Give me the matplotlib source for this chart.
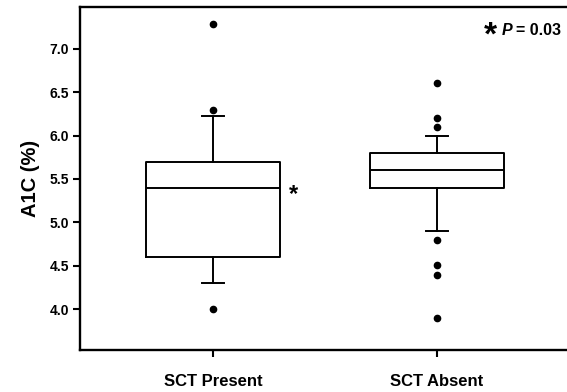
import matplotlib
matplotlib.use("Agg")
import matplotlib.pyplot as plt

plt.rcParams["font.family"] = ["Liberation Sans", "DejaVu Sans"]

# box statistics
groups = ["SCT Present", "SCT Absent"]
q1 = [4.6, 5.4]
medians = [5.4, 5.6]
q3 = [5.7, 5.8]
whisker_lo = [4.3, 4.9]
whisker_hi = [6.22, 6.0]
outliers = [
    [4.0, 6.3, 7.28],
    [6.6, 6.2, 6.1, 4.8, 4.51, 4.4, 3.9],
]

stats = []
for i, g in enumerate(groups):
    stats.append(dict(label=g, med=medians[i], q1=q1[i], q3=q3[i],
                      whislo=whisker_lo[i], whishi=whisker_hi[i],
                      fliers=outliers[i]))

fig = plt.figure(figsize=(5.67, 3.92), dpi=100)
ax = fig.add_axes([0.141, 0.107, 0.859, 0.875])

ax.bxp(stats, positions=[1, 2], widths=0.6, capwidths=0.1,
       boxprops=dict(color="black", linewidth=1.4),
       medianprops=dict(color="black", linewidth=1.4),
       whiskerprops=dict(color="black", linewidth=1.4),
       capprops=dict(color="black", linewidth=1.4),
       flierprops=dict(marker="o", markerfacecolor="black",
                       markeredgecolor="black", markersize=4.5))

ax.set_xlim(0.406, 2.58)
ax.set_ylim(3.53, 7.48)
ax.set_yticks([4.0, 4.5, 5.0, 5.5, 6.0, 6.5, 7.0])
ax.set_yticklabels(["4.0", "4.5", "5.0", "5.5", "6.0", "6.5", "7.0"],
                   fontsize=10, fontweight="bold")
ax.set_xticks([1, 2])
ax.set_xticklabels(groups, fontsize=12, fontweight="bold")
ax.tick_params(axis="both", direction="out", length=5, width=1.5, colors="black")
ax.tick_params(axis="y", pad=3)
ax.tick_params(axis="x", pad=12)

ax.set_ylabel("A1C (%)", fontsize=14.5, fontweight="bold", labelpad=7)

for side in ["left", "top", "bottom"]:
    ax.spines[side].set_linewidth(1.7)
ax.spines["right"].set_visible(False)

# significance marks
ax.text(1.36, 5.32, "*", fontsize=17, fontweight="bold", ha="center", va="center")
ax.text(2.24, 7.15, "*", fontsize=24, fontweight="bold", ha="center", va="center")
ax.text(2.29, 7.21, "P", fontsize=11.5, fontweight="bold", style="italic",
        ha="left", va="center")
ax.text(2.352, 7.21, "= 0.03", fontsize=11.5, fontweight="bold",
        ha="left", va="center")

fig.savefig("out.png", dpi=100, facecolor="white")
